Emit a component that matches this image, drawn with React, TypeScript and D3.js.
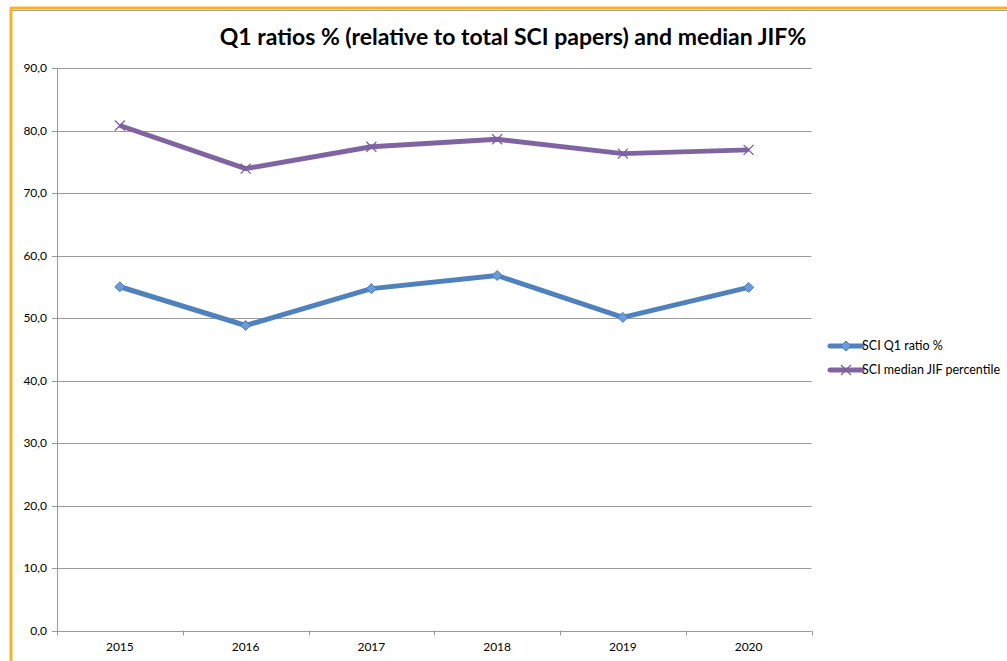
import React from "react";
import * as d3 from "d3";

const years = ["2015", "2016", "2017", "2018", "2019", "2020"];
const q1Ratio = [55.0, 48.8, 54.7, 56.8, 50.1, 54.9];
const medianJif = [80.8, 73.9, 77.4, 78.6, 76.3, 76.9];
const yTicks = [0, 10, 20, 30, 40, 50, 60, 70, 80, 90];
const seriesNames = ["SCI Q1 ratio %", "SCI median JIF percentile"];

const W = 1007;
const H = 661;
const left = 57;
const right = 811.5;
const top = 68;
const bottom = 630.5;
const font = "Lato, 'Open Sans', sans-serif";

export default function App() {
  const x = d3.scaleBand<string>().domain(years).range([left, right]);
  const y = d3.scaleLinear().domain([0, 90]).range([bottom, top]);
  const line = d3
    .line<number>()
    .x((_, i) => (x(years[i]) as number) + x.bandwidth() / 2)
    .y((d) => y(d));
  const fmt = (v: number) => v.toFixed(1).replace(".", ",");
  const cx = (i: number) => (x(years[i]) as number) + x.bandwidth() / 2;

  const diamond = (px: number, py: number, key: string) => (
    <path
      key={key}
      d={`M${px},${py - 5}L${px + 5},${py}L${px},${py + 5}L${px - 5},${py}Z`}
      fill="#6A9BDD"
      stroke="#4A79B5"
      strokeWidth={1}
    />
  );
  const cross = (px: number, py: number, key: string) => (
    <path
      key={key}
      d={`M${px - 5},${py - 5}L${px + 5},${py + 5}M${px - 5},${py + 5}L${px + 5},${py - 5}`}
      stroke="#7A5F9E"
      strokeWidth={1.3}
      fill="none"
    />
  );

  return (
    <svg
      width={W}
      height={H}
      style={{ position: "absolute", left: 0, top: 0, background: "#fff" }}
    >
      {/* frame */}
      <line x1={11} y1={8} x2={W} y2={8} stroke="#F5B324" strokeWidth={3} />
      <line x1={12} y1={10.5} x2={W} y2={10.5} stroke="#A0A0A0" strokeWidth={1} />
      <line x1={11} y1={7} x2={11} y2={H} stroke="#F5B324" strokeWidth={3} />

      <text
        x={513}
        y={45}
        textAnchor="middle"
        fontFamily={font}
        fontWeight="bold"
        fontSize={23}
        fill="#000"
      >
        Q1 ratios % (relative to total SCI papers) and median JIF%
      </text>

      {/* gridlines */}
      {yTicks.map((t) => (
        <g key={t}>
          <line
            x1={left - 5}
            x2={right}
            y1={Math.round(y(t)) + 0.5}
            y2={Math.round(y(t)) + 0.5}
            stroke="#9A9A9A"
            strokeWidth={1}
          />
          <text
            x={47}
            y={y(t) + 4}
            textAnchor="end"
            fontFamily={font}
            fontSize={12}
            fill="#000"
          >
            {fmt(t)}
          </text>
        </g>
      ))}
      <line x1={left + 0.5} x2={left + 0.5} y1={top} y2={bottom + 5} stroke="#9A9A9A" />
      {years.map((yr, i) => (
        <g key={yr}>
          <line
            x1={Math.round((x(yr) as number) + x.bandwidth()) + 0.5}
            x2={Math.round((x(yr) as number) + x.bandwidth()) + 0.5}
            y1={bottom}
            y2={bottom + 5}
            stroke="#9A9A9A"
          />
          <text
            x={cx(i)}
            y={651}
            textAnchor="middle"
            fontFamily={font}
            fontSize={12}
            fill="#000"
          >
            {yr}
          </text>
        </g>
      ))}

      {/* series */}
      <path d={line(medianJif) ?? ""} fill="none" stroke="#8064A2" strokeWidth={5} strokeLinejoin="round" />
      {medianJif.map((v, i) => cross(cx(i), y(v), "m" + i))}
      <path d={line(q1Ratio) ?? ""} fill="none" stroke="#4F81BD" strokeWidth={5} strokeLinejoin="round" />
      {q1Ratio.map((v, i) => diamond(cx(i), y(v), "q" + i))}

      {/* legend */}
      <line x1={830} x2={862} y1={346} y2={346} stroke="#4F81BD" strokeWidth={5} strokeLinecap="round" />
      {diamond(846, 346, "lq")}
      <text x={862} y={350} fontFamily={font} fontSize={12.5} fill="#000">
        {seriesNames[0]}
      </text>
      <line x1={830} x2={862} y1={370} y2={370} stroke="#8064A2" strokeWidth={5} strokeLinecap="round" />
      {cross(846, 370, "lm")}
      <text x={862} y={374} fontFamily={font} fontSize={12.5} fill="#000">
        {seriesNames[1]}
      </text>
    </svg>
  );
}
